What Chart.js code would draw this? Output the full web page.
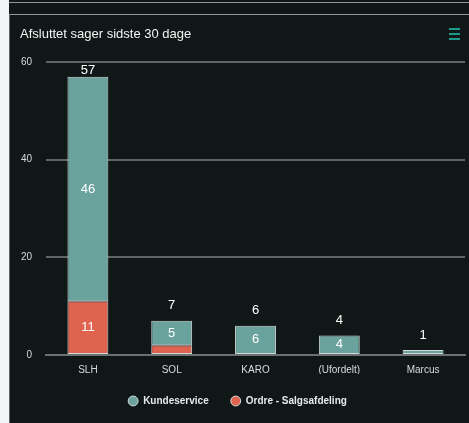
<!DOCTYPE html>
<html>
<head>
<meta charset="utf-8">
<script src="https://cdn.jsdelivr.net/npm/chart.js@4.4.0/dist/chart.umd.min.js"></script>
<style>
  html, body { margin: 0; padding: 0; }
  body { width: 469px; height: 423px; background: #f3f4f6; position: relative; overflow: hidden; font-family: "Liberation Sans", Arial, sans-serif; }
  .frame { position: absolute; left: 9px; top: 0; width: 460px; height: 423px; background: #101817; }
  .topline { position: absolute; left: 0; right: 0; top: 2px; height: 1px; background: #8f9796; }
  .panel { position: absolute; left: 0; top: 14px; right: 0; bottom: 0; border-top: 1px solid #8f9796; border-left: 1px solid #5d6564; }
  .title { position: absolute; left: 10px; top: 11px; color: #f2f4f4; font-size: 13px; }
  .menu { position: absolute; right: 9px; top: 13px; width: 11px; }
  .menu span { display: block; height: 2px; background: #1c9a8b; margin-bottom: 3px; }
  #wrap { position: absolute; left: 0; top: 0; width: 459px; height: 408px; }
</style>
</head>
<body>
<div class="frame">
  <div class="topline"></div>
  <div class="panel">
    <div id="wrap"><canvas id="chart"></canvas></div>
    <div class="title">Afsluttet sager sidste 30 dage</div>
    <div class="menu"><span></span><span></span><span></span></div>
  </div>
</div>
<script>
// chart data
const categories = ['SLH', 'SOL', 'KARO', '(Ufordelt)', 'Marcus'];
const kundeservice = [46, 5, 6, 4, 1];
const ordre = [11, 2, 0, 0, 0];
const yTicks = [0, 20, 40, 60];

const teal = '#6aa39d';
const red = '#e0634f';
const fontFamily = '"Liberation Sans", Arial, sans-serif';

// draws values inside segments and stack totals above
const valueLabels = {
    id: 'valueLabels',
    afterDatasetsDraw(chart) {
        const ctx = chart.ctx;
        const area = chart.chartArea;
        const yScale = chart.scales.y;
        ctx.save();
        ctx.fillStyle = '#ffffff';
        ctx.font = '13px ' + fontFamily;
        ctx.textAlign = 'center';
        ctx.textBaseline = 'middle';

        chart.data.datasets.forEach((ds, di) => {
            chart.getDatasetMeta(di).data.forEach((bar, i) => {
                const v = ds.data[i];
                const h = Math.abs(bar.base - bar.y);
                if (v > 0 && h > 14) {
                    ctx.fillText(v, bar.x, (bar.y + bar.base) / 2);
                }
            });
        });

        categories.forEach((c, i) => {
            const total = kundeservice[i] + ordre[i];
            const x = chart.getDatasetMeta(0).data[i].x;
            let y = yScale.getPixelForValue(total) - 15;
            if (y < area.top + 8) y = area.top + 8;
            ctx.fillText(total, x, y);
        });
        ctx.restore();
    }
};

new Chart(document.getElementById('chart'), {
    type: 'bar',
    data: {
        labels: categories,
        datasets: [
            {
                label: 'Ordre - Salgsafdeling',
                data: ordre,
                backgroundColor: red,
                borderColor: '#d3d9d8',
                borderWidth: 1,
                borderSkipped: false
            },
            {
                label: 'Kundeservice',
                data: kundeservice,
                backgroundColor: teal,
                borderColor: '#d3d9d8',
                borderWidth: 1,
                borderSkipped: false
            }
        ]
    },
    options: {
        responsive: true,
        maintainAspectRatio: false,
        animation: false,
        layout: { padding: { top: 47, right: 4, left: 0, bottom: 7 } },
        datasets: { bar: { categoryPercentage: 0.8, barPercentage: 0.61 } },
        scales: {
            x: {
                stacked: true,
                grid: { display: false, drawTicks: false },
                border: { display: true, color: '#6b7170', width: 2 },
                ticks: { color: '#d6dbdb', font: { size: 10, family: fontFamily }, padding: 9 },
                afterFit: (scale) => { scale.height -= 11; }
            },
            y: {
                stacked: true,
                min: 0,
                max: 60,
                afterBuildTicks: (scale) => { scale.ticks = yTicks.map(v => ({ value: v })); },
                afterFit: (scale) => { scale.width = 36; },
                grid: { color: '#5f6564', lineWidth: 2, drawTicks: false },
                border: { display: false },
                ticks: { color: '#d6dbdb', font: { size: 10, family: fontFamily }, padding: 14 }
            }
        },
        plugins: {
            tooltip: { enabled: false },
            legend: {
                position: 'bottom',
                reverse: true,
                labels: {
                    color: '#e6eaea',
                    usePointStyle: true,
                    pointStyle: 'circle',
                    boxWidth: 10,
                    boxHeight: 7,
                    padding: 22,
                    font: { size: 10, weight: 'bold', family: fontFamily }
                }
            }
        }
    },
    plugins: [valueLabels]
});
</script>
</body>
</html>
